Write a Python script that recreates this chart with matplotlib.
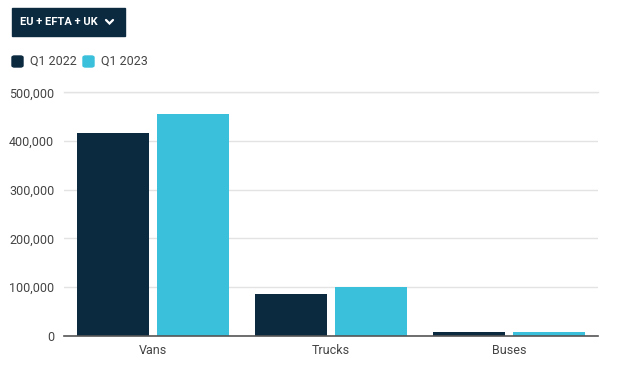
import matplotlib

matplotlib.use("Agg")
import matplotlib.pyplot as plt
import numpy as np
from matplotlib.lines import Line2D
from matplotlib.patches import FancyBboxPatch, Rectangle

plt.rcParams["font.family"] = ["Roboto", "DejaVu Sans"]

# ---- data
categories = ["Vans", "Trucks", "Buses"]
q1_2022 = [417000, 85000, 8000]
q1_2023 = [456000, 101000, 8000]
series_names = ["Q1 2022", "Q1 2023"]
yticks = [0, 100000, 200000, 300000, 400000, 500000]
region = "EU + EFTA + UK"

DARK = "#0b2a40"
CYAN = "#3bc0db"
TXT = "#444444"

W, H = 620, 369
fig = plt.figure(figsize=(W / 100, H / 100), dpi=100)
ax = fig.add_axes([64 / W, 1 - 335.8 / H, (598 - 64) / W, (335.8 - 92.3) / H])

x = np.arange(len(categories))
bw = 72 / 178
off = 40 / 178
ax.bar(x - off, q1_2022, width=bw, color=DARK, zorder=3)
ax.bar(x + off, q1_2023, width=bw, color=CYAN, zorder=3)

ax.set_xlim(-0.5, len(categories) - 0.5)
ax.set_ylim(0, 500000)
ax.set_yticks(yticks)
ax.set_yticklabels([f"{v:,}" for v in yticks])
ax.set_xticks(x)
ax.set_xticklabels(categories)
ax.tick_params(axis="both", length=0, labelsize=9, colors=TXT)
ax.tick_params(axis="y", pad=7)
ax.tick_params(axis="x", pad=6)
ax.grid(axis="y", color="#e3e3e3", lw=1, zorder=0)
ax.set_axisbelow(True)
for s in ("top", "right", "left"):
    ax.spines[s].set_visible(False)
ax.spines["bottom"].set_color("#555555")
ax.spines["bottom"].set_linewidth(1.2)
ax.spines["bottom"].set_zorder(4)
# top gridline sits on the axes edge
ax.axhline(500000, color="#e3e3e3", lw=1, clip_on=False, zorder=0)

# ---- region selector button
fig.patches.append(Rectangle((12 / W, 1 - 36 / H), (125 - 12) / W, 28 / H,
                             transform=fig.transFigure, color=DARK, zorder=5))
fig.text(20 / W, 1 - 22 / H, region, color="white", fontsize=8, fontweight="bold",
         va="center", ha="left", zorder=6)
# chevron
fig.lines.append(Line2D([106 / W, 109.5 / W, 113 / W], [1 - 20 / H, 1 - 23.5 / H, 1 - 20 / H],
                        transform=fig.transFigure, color="white", lw=1.6, zorder=6,
                        solid_capstyle="round", solid_joinstyle="miter"))

# ---- legend
for sx, tx, col, name in [(12, 30, DARK, series_names[0]), (83, 101, CYAN, series_names[1])]:
    fig.patches.append(FancyBboxPatch((sx / W, 1 - 67 / H), 11 / W, 11 / H,
                                      boxstyle="round,pad=0,rounding_size=0.004",
                                      transform=fig.transFigure, color=col))
    fig.text(tx / W, 1 - 61.5 / H, name, color=TXT, fontsize=9, va="center", ha="left")

fig.savefig("out.png", dpi=100, facecolor="white")
